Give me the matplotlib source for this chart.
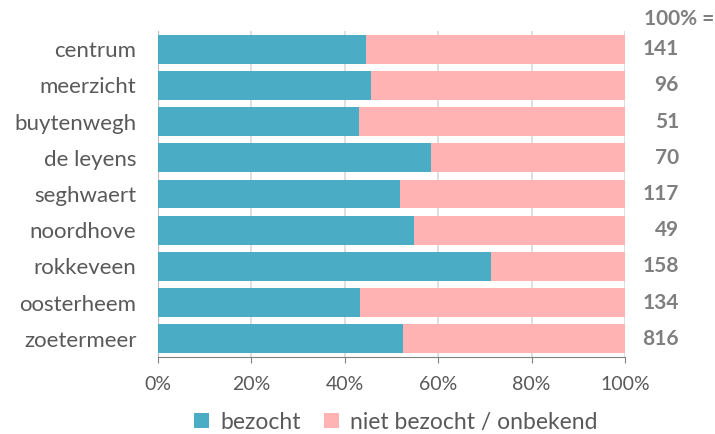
import matplotlib.pyplot as plt
import numpy as np

plt.rcParams['font.family'] = ['Lato', 'DejaVu Sans']

wijken = ["centrum", "meerzicht", "buytenwegh", "de leyens", "seghwaert",
          "noordhove", "rokkeveen", "oosterheem", "zoetermeer"]
bezocht = [44.5, 45.7, 43.1, 58.5, 51.9, 54.9, 71.4, 43.2, 52.4]
totaal = [141, 96, 51, 70, 117, 49, 158, 134, 816]
niet_bezocht = [100 - b for b in bezocht]

blue = "#4BACC6"
pink = "#FFB3B3"
grey = "#595959"
lightgrey = "#7F7F7F"

fig = plt.figure(figsize=(7.15, 4.34), dpi=100)
ax = fig.add_axes([158 / 715, 1 - 357 / 434, 467 / 715, 326 / 434])

y = np.arange(len(wijken))
ax.barh(y, bezocht, height=0.8, color=blue, label="bezocht", zorder=3)
ax.barh(y, niet_bezocht, left=bezocht, height=0.8, color=pink,
        label="niet bezocht / onbekend", zorder=3)

ax.set_xlim(0, 100)
ax.set_ylim(len(wijken) - 0.5, -0.5)
ax.set_yticks(y)
ax.set_yticklabels(wijken, fontsize=16, color=grey)
ax.set_xticks(range(0, 101, 20))
ax.set_xticklabels([f"{v}%" for v in range(0, 101, 20)], fontsize=14, color=grey)
ax.tick_params(axis="y", length=0, pad=15.5)
ax.tick_params(axis="x", length=4, color="#808080", pad=10)
ax.grid(axis="x", color="#D9D9D9", linewidth=1.2, zorder=0)

for s in ["top", "right"]:
    ax.spines[s].set_visible(False)
ax.spines["left"].set_color("#BFBFBF")
ax.spines["bottom"].set_color("#808080")

# totals (100% = n) to the right of the bars
for i, n in enumerate(totaal):
    ax.annotate(str(n), xy=(1.1156, i), xycoords=("axes fraction", "data"),
                ha="right", va="center", fontsize=15, fontweight="bold", color=lightgrey)
ax.annotate("100% =", xy=(1.0407, -0.82), xycoords=("axes fraction", "data"),
            ha="left", va="center", fontsize=15, fontweight="bold", color=lightgrey,
            annotation_clip=False)

fig.legend(loc="center", bbox_to_anchor=(0.554, 0.027), ncol=2, frameon=False,
           fontsize=16.5, labelcolor=grey, handlelength=0.65, handleheight=0.65,
           columnspacing=1.0, handletextpad=0.5, borderpad=0, borderaxespad=0)

fig.savefig("out.png", dpi=100)
